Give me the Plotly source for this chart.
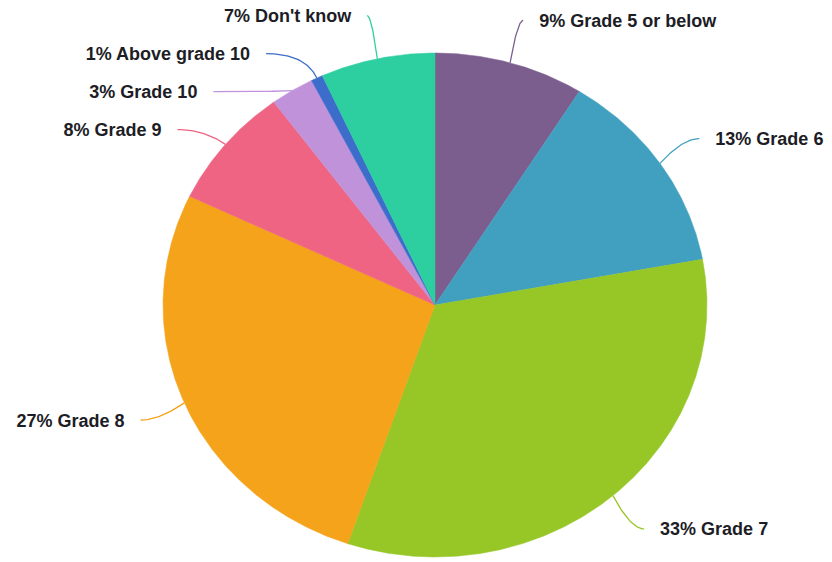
import math
import plotly.graph_objects as go

# ---- data ----
categories = ["Grade 5 or below", "Grade 6", "Grade 7", "Grade 8", "Grade 9",
              "Grade 10", "Above grade 10", "Don't know"]
values = [8.9, 13.2, 33.1, 26.9, 7.8, 2.6, 0.7, 6.8]
colors = ["#7B5E8E", "#41A0C0", "#97C627", "#F4A31A", "#EE6482",
          "#C092DA", "#3C6DCB", "#2DCFA0"]

# ---- layout constants (axis units = screen pixels) ----
W, H = 832, 562
CX, CY = 435, 305
RX, RY = 272, 252
LABEL_R = 1.175
CTRL_R = 1.1
SPACING = 38
GAP = 16

total = sum(values)
fig = go.Figure()


def pt(angle_deg, r):
    a = math.radians(angle_deg)
    return CX + RX * r * math.sin(a), CY - RY * r * math.cos(a)


# slices
mids = []
acc = 0.0
for cat, v, col in zip(categories, values, colors):
    a0 = acc / total * 360
    a1 = (acc + v) / total * 360
    acc += v
    mids.append((a0 + a1) / 2)
    n = max(4, int((a1 - a0) / 0.25))
    xs, ys = [CX], [CY]
    for i in range(n + 1):
        x, y = pt(a0 + (a1 - a0) * i / n, 1.0)
        xs.append(x)
        ys.append(y)
    xs.append(CX)
    ys.append(CY)
    fig.add_trace(go.Scatter(
        x=xs, y=ys, mode="lines", fill="toself", fillcolor=col,
        line=dict(color=col, width=0.5), hoverinfo="text",
        text=f"{cat}: {round(v / total * 100)}%", showlegend=False,
    ))

# label anchor positions with simple collision avoidance per side
anchors = [None] * len(values)
for side in ("right", "left"):
    idx = [i for i, m in enumerate(mids) if (m < 180) == (side == "right")]
    nat = sorted((pt(mids[i], LABEL_R)[1], i) for i in idx)
    last = -1e9
    for y, i in nat:
        y2 = max(y, last + SPACING)
        last = y2
        dy = max(-1.0, min(1.0, (y2 - CY) / (RY * LABEL_R)))
        dx = RX * LABEL_R * math.sqrt(1 - dy * dy)
        anchors[i] = (CX + dx if side == "right" else CX - dx, y2, side)

# leader lines: quadratic curves from slice edge to label anchor
for i, col in enumerate(colors):
    ex, ey = pt(mids[i], 1.0)
    ax_, ay_, side = anchors[i]
    cx_ = pt(mids[i], CTRL_R)[0]
    cy_ = ay_
    xs, ys = [], []
    for k in range(31):
        t = k / 30
        xs.append((1 - t) ** 2 * ex + 2 * (1 - t) * t * cx_ + t * t * ax_)
        ys.append((1 - t) ** 2 * ey + 2 * (1 - t) * t * cy_ + t * t * ay_)
    fig.add_trace(go.Scatter(
        x=xs, y=ys, mode="lines", line=dict(color=col, width=1.3),
        hoverinfo="skip", showlegend=False, cliponaxis=False,
    ))

# labels
tx, ty, tt, tp = [], [], [], []
for i, cat in enumerate(categories):
    ax_, ay_, side = anchors[i]
    pct = round(values[i] / total * 100)
    tx.append(ax_ + GAP if side == "right" else ax_ - GAP)
    ty.append(ay_ + 2)
    tt.append(f"{pct}% {cat}")
    tp.append("middle right" if side == "right" else "middle left")
fig.add_trace(go.Scatter(
    x=tx, y=ty, mode="text", text=tt, textposition=tp,
    textfont=dict(family="Liberation Sans", size=18, color="#1d1d26", weight="bold"),
    hoverinfo="skip", showlegend=False, cliponaxis=False,
))

fig.update_layout(
    width=W, height=H,
    margin=dict(l=0, r=0, t=0, b=0),
    paper_bgcolor="white", plot_bgcolor="white",
    xaxis=dict(range=[0, W], visible=False, fixedrange=True),
    yaxis=dict(range=[H, 0], visible=False, fixedrange=True),
)

fig.write_html("out.html", config={"displayModeBar": False},
               post_script="document.body.style.margin='0px';")
